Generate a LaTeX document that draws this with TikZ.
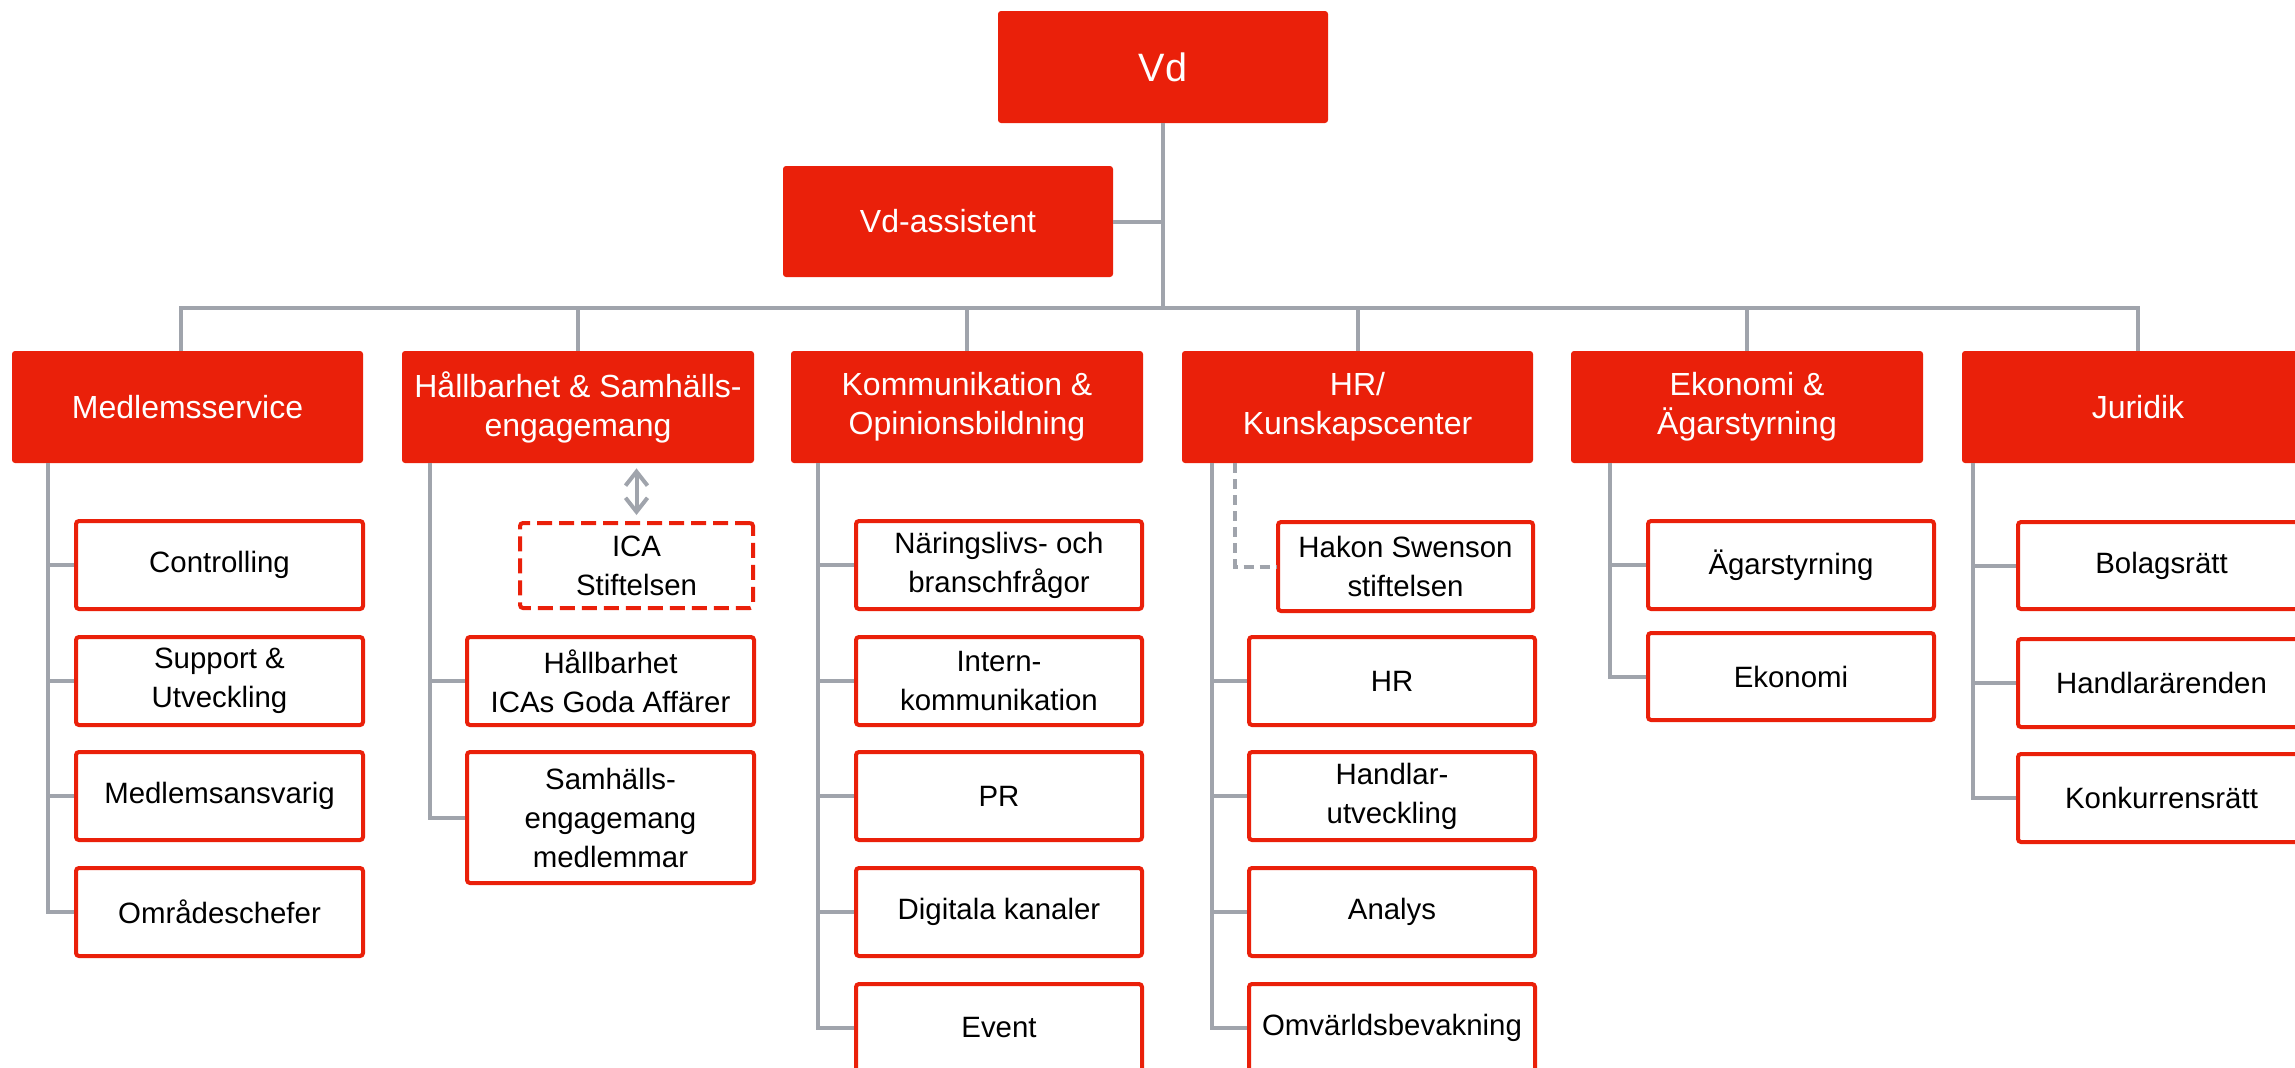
\documentclass[tikz,border=0pt]{standalone}
\usepackage{fontspec}
\setmainfont{Liberation Sans}
\usetikzlibrary{arrows.meta,calc}
\definecolor{icared}{RGB}{234,32,10}
\definecolor{linegrey}{RGB}{160,164,172}
\newcommand\orgbox[7]{\node[#6, minimum width={(#4-#2)*0.5pt}, minimum height={(#5-#3)*0.5pt}] (#1) at ({(#2+#4)/2},{(#3+#5)/2}) {#7};}
\begin{document}
\begin{tikzpicture}[x=0.5pt,y=-0.5pt,
  headbox/.style={fill=icared, draw=none, text=white, rounded corners=1.5pt, align=center, inner sep=0pt, font=\fontsize{16}{19.5}\selectfont},
  subbox/.style={draw=icared, line width=2pt, fill=white, text=black, rounded corners=1.5pt, align=center, inner sep=0pt, font=\fontsize{14.7}{19.5}\selectfont},
  dashbox/.style={subbox, dash pattern=on 7.5pt off 3.5pt},
  conn/.style={draw=linegrey, line width=2pt},
  dconn/.style={conn, dash pattern=on 5pt off 3pt}]
\useasboundingbox (0,0) rectangle (2295,1067);
\clip (0,0) rectangle (2295,1067);
% top
\orgbox{vd}{998}{11}{1328}{123}{headbox, font=\fontsize{19.8}{24}\selectfont}{Vd}
\orgbox{va}{783}{166}{1113}{277}{headbox}{Vd-assistent}
% level 2
\orgbox{ms}{12}{351}{363}{463}{headbox}{Medlemsservice}
\orgbox{hs}{402}{351}{754}{463}{headbox}{Hållbarhet \& Samhälls-\\engagemang}
\orgbox{ko}{791}{351}{1143}{463}{headbox}{Kommunikation \&\\Opinionsbildning}
\orgbox{hr}{1182}{351}{1533}{463}{headbox}{HR/\\Kunskapscenter}
\orgbox{ek}{1571}{351}{1923}{463}{headbox}{Ekonomi \&\\Ägarstyrning}
\orgbox{ju}{1962}{351}{2314}{463}{headbox}{Juridik}
% Medlemsservice
\orgbox{ms1}{76}{521}{363}{609}{subbox}{Controlling}
\orgbox{ms2}{76}{637}{363}{725}{subbox}{Support \&\\Utveckling}
\orgbox{ms3}{76}{752}{363}{840}{subbox}{Medlemsansvarig}
\orgbox{ms4}{76}{868}{363}{956}{subbox}{Områdeschefer}
% Hållbarhet
\orgbox{ica}{520}{523}{753}{608}{dashbox}{ICA\\Stiftelsen}
\orgbox{hs1}{467}{637}{754}{725}{subbox}{Hållbarhet\\ICAs Goda Affärer}
\orgbox{hs2}{467}{752}{754}{883}{subbox}{Samhälls-\\engagemang\\medlemmar}
% Kommunikation
\orgbox{ko1}{856}{521}{1142}{609}{subbox}{Näringslivs- och\\branschfrågor}
\orgbox{ko2}{856}{637}{1142}{725}{subbox}{Intern-\\kommunikation}
\orgbox{ko3}{856}{752}{1142}{840}{subbox}{PR}
\orgbox{ko4}{856}{868}{1142}{956}{subbox}{Digitala kanaler}
\orgbox{ko5}{856}{984}{1142}{1072}{subbox}{Event}
% HR
\orgbox{hak}{1278}{522}{1533}{611}{subbox}{Hakon Swenson\\stiftelsen}
\orgbox{hr1}{1249}{637}{1535}{725}{subbox}{HR}
\orgbox{hr2}{1249}{752}{1535}{840}{subbox}{Handlar-\\utveckling}
\orgbox{hr3}{1249}{868}{1535}{956}{subbox}{Analys}
\orgbox{hr4}{1249}{984}{1535}{1072}{subbox}{Omvärldsbevakning}
% Ekonomi
\orgbox{ek1}{1648}{521}{1934}{609}{subbox}{Ägarstyrning}
\orgbox{ek2}{1648}{633}{1934}{720}{subbox}{Ekonomi}
% Juridik
\orgbox{ju1}{2018}{522}{2305}{609}{subbox}{Bolagsrätt}
\orgbox{ju2}{2018}{639}{2305}{727}{subbox}{Handlarärenden}
\orgbox{ju3}{2018}{754}{2305}{842}{subbox}{Konkurrensrätt}
% connectors top
\coordinate (bus) at (1163,308);
\draw[conn] (vd.south) -- (bus);
\draw[conn] (va.east) -- (va.east -| bus);
\draw[conn] ($(ms.north)+(-7,0)$) |- (bus) -| (ju.north);
\foreach \n in {hs,ko,hr,ek} \draw[conn] (\n.north) -- (\n.north |- bus);
% child spines
\coordinate (msL) at (48,463);
\coordinate (hsL) at (430,463);
\coordinate (koL) at (818,463);
\coordinate (hrL) at (1212,463);
\coordinate (hrD) at (1235,463);
\coordinate (ekL) at (1610,463);
\coordinate (juL) at (1973,463);
\draw[conn] (msL) |- (ms4.west);
\foreach \n in {ms1,ms2,ms3} \draw[conn] (msL |- \n.west) -- (\n.west);
\draw[conn] (hsL) |- (hs2.west);
\draw[conn] (hsL |- hs1.west) -- (hs1.west);
\draw[conn] (koL) |- (ko5.west);
\foreach \n in {ko1,ko2,ko3,ko4} \draw[conn] (koL |- \n.west) -- (\n.west);
\draw[conn] (hrL) |- (hr4.west);
\foreach \n in {hr1,hr2,hr3} \draw[conn] (hrL |- \n.west) -- (\n.west);
\draw[dconn] (hrD) |- (hak.west);
\draw[conn] (ekL) |- (ek2.west);
\draw[conn] (ekL |- ek1.west) -- (ek1.west);
\draw[conn] (juL) |- (ju3.west);
\foreach \n in {ju1,ju2} \draw[conn] (juL |- \n.west) -- (\n.west);
% double arrow
\draw[conn, {Straight Barb[length=7pt,width=11pt]}-{Straight Barb[length=7pt,width=11pt]}, shorten <=2.5pt, shorten >=3pt] (hs.south -| ica.north) -- (ica.north);
\end{tikzpicture}
\end{document}
